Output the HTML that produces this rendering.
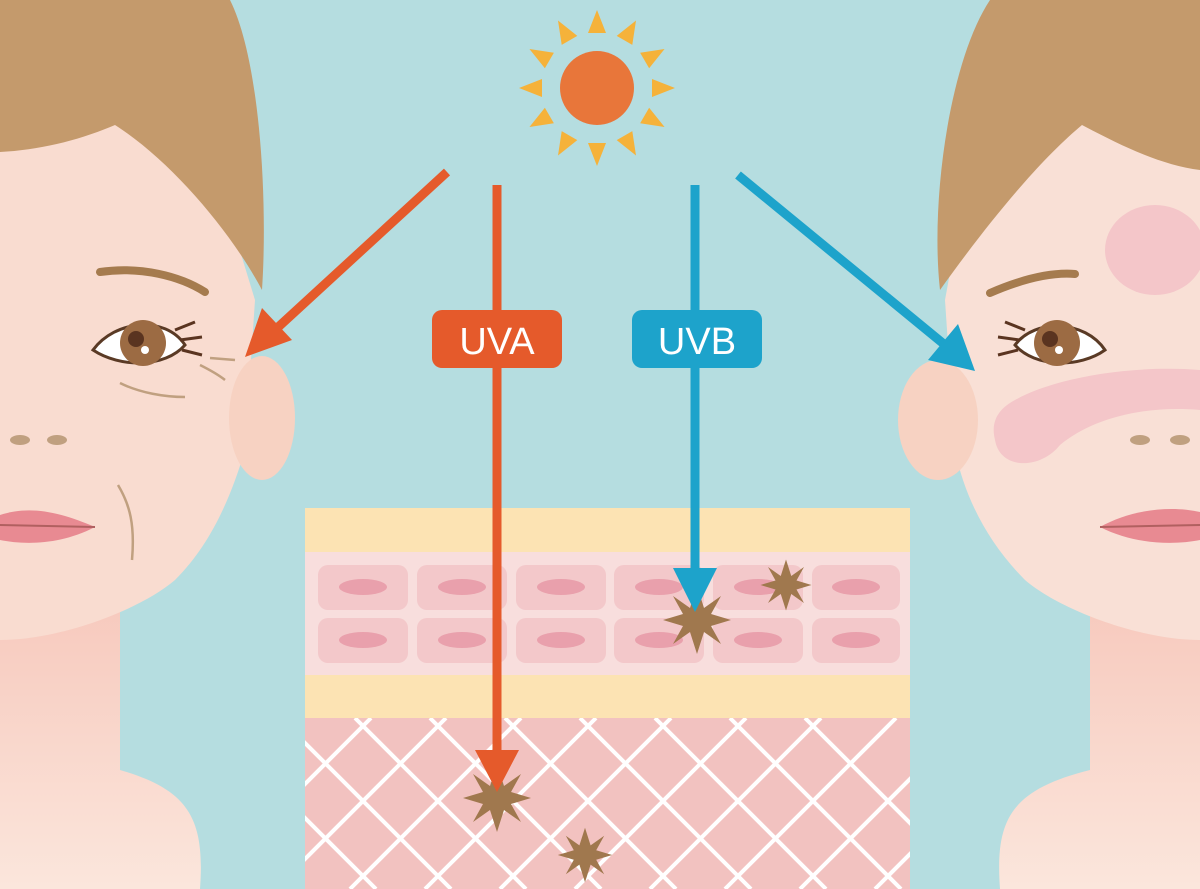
<!DOCTYPE html>
<html><head><meta charset="utf-8"><style>html,body{margin:0;padding:0;background:#b5dde0}svg{display:block}</style></head>
<body>
<svg width="1200" height="889" viewBox="0 0 1200 889" xmlns="http://www.w3.org/2000/svg">
<defs>
<linearGradient id="neckL" x1="0" y1="0" x2="0" y2="1"><stop offset="0" stop-color="#f7c9bd"/><stop offset="1" stop-color="#fbe6dc"/></linearGradient>
<clipPath id="derm"><rect x="305" y="718" width="605" height="171"/></clipPath>
<g id="star"><polygon points="0,-34 7,-12 24,-24 14,-6 34,0 14,6 24,24 7,12 0,34 -7,12 -24,24 -14,6 -34,0 -14,-6 -24,-24 -7,-12" fill="#a0784e"/></g>
</defs>
<rect width="1200" height="889" fill="#b5dde0"/>

<!-- LEFT FACE -->
<path d="M0,889 L200,889 C205,820 190,790 120,770 L120,600 L0,600 Z" fill="url(#neckL)"/>
<path d="M0,100 L0,640 C60,640 140,610 175,580 C210,545 230,500 245,450 L255,300 L200,120 Z" fill="#f9dcd0"/>
<ellipse cx="262" cy="418" rx="33" ry="62" fill="#f7d2c2"/>
<path d="M0,0 L230,0 C260,60 268,200 262,290 C230,230 170,160 115,125 C80,140 40,150 0,152 Z" fill="#c49a6c"/>
<path d="M100,272 C140,266 180,276 205,292" stroke="#a57b4e" stroke-width="8" fill="none" stroke-linecap="round"/>
<path d="M93,350 C115,320 165,315 185,345 C165,368 120,368 93,350 Z" fill="#fff" stroke="#5a3a25" stroke-width="3"/>
<circle cx="143" cy="343" r="23" fill="#9c6b43"/><circle cx="136" cy="339" r="8" fill="#5a3420"/><circle cx="145" cy="350" r="4" fill="#fff"/>
<path d="M175,330 l20,-8 M180,340 l22,-3 M182,350 l20,5" stroke="#5a3420" stroke-width="3"/>
<path d="M120,383 C140,393 165,397 185,397 M200,365 C210,370 220,376 225,380 M210,358 L235,360" stroke="#c0a080" stroke-width="2.5" fill="none"/>
<ellipse cx="20" cy="440" rx="10" ry="5" fill="#c0a080"/><ellipse cx="57" cy="440" rx="10" ry="5" fill="#c0a080"/>
<path d="M0,515 C30,505 60,512 95,527 C60,545 25,545 0,540 Z" fill="#e88a92"/>
<path d="M0,525 L95,527" stroke="#b06060" stroke-width="2"/>
<path d="M118,485 C130,505 135,525 132,560" stroke="#c0a080" stroke-width="2.5" fill="none"/>

<!-- RIGHT FACE -->
<path d="M1200,889 L1000,889 C995,820 1010,790 1090,770 L1090,600 L1200,600 Z" fill="url(#neckL)"/>
<path d="M1200,0 L1200,640 C1140,640 1060,610 1025,580 C990,545 965,500 955,450 L945,300 L1000,0 Z" fill="#f9e0d6"/>
<ellipse cx="938" cy="420" rx="40" ry="60" fill="#f7d2c2"/>
<ellipse cx="1155" cy="250" rx="50" ry="45" fill="#f4c6c9"/>
<path d="M1015,400 C1060,375 1140,365 1200,370 L1200,410 C1140,405 1090,420 1060,445 C1040,470 1000,470 995,440 C990,420 1000,408 1015,400 Z" fill="#f4c6c9"/>
<path d="M1200,0 L990,0 C950,60 930,200 940,290 C990,220 1040,160 1082,125 C1120,145 1160,165 1200,170 Z" fill="#c49a6c"/>
<path d="M990,293 C1020,280 1050,272 1075,274" stroke="#a57b4e" stroke-width="8" fill="none" stroke-linecap="round"/>
<path d="M1105,350 C1085,320 1035,318 1015,345 C1035,368 1080,368 1105,350 Z" fill="#fff" stroke="#5a3a25" stroke-width="3"/>
<circle cx="1057" cy="343" r="23" fill="#9c6b43"/><circle cx="1050" cy="339" r="8" fill="#5a3420"/><circle cx="1059" cy="350" r="4" fill="#fff"/>
<path d="M1025,330 l-20,-8 M1020,340 l-22,-3 M1018,350 l-20,5" stroke="#5a3420" stroke-width="3"/>
<ellipse cx="1140" cy="440" rx="10" ry="5" fill="#c0a080"/><ellipse cx="1180" cy="440" rx="10" ry="5" fill="#c0a080"/>
<path d="M1200,512 C1170,505 1130,510 1100,527 C1135,545 1175,545 1200,540 Z" fill="#e88a92"/>
<path d="M1100,527 L1200,525" stroke="#b06060" stroke-width="2"/>

<!-- SKIN BLOCK -->
<rect x="305" y="508" width="605" height="44" fill="#fce3b3"/>
<rect x="305" y="552" width="605" height="123" fill="#f8dedd"/>
<g fill="#f3c8ca">
<rect x="318" y="565" width="90" height="45" rx="10"/><rect x="417" y="565" width="90" height="45" rx="10"/><rect x="516" y="565" width="90" height="45" rx="10"/><rect x="614" y="565" width="90" height="45" rx="10"/><rect x="713" y="565" width="90" height="45" rx="10"/><rect x="812" y="565" width="88" height="45" rx="10"/>
<rect x="318" y="618" width="90" height="45" rx="10"/><rect x="417" y="618" width="90" height="45" rx="10"/><rect x="516" y="618" width="90" height="45" rx="10"/><rect x="614" y="618" width="90" height="45" rx="10"/><rect x="713" y="618" width="90" height="45" rx="10"/><rect x="812" y="618" width="88" height="45" rx="10"/>
</g>
<g fill="#e9a0ac">
<ellipse cx="363" cy="587" rx="24" ry="8"/><ellipse cx="462" cy="587" rx="24" ry="8"/><ellipse cx="561" cy="587" rx="24" ry="8"/><ellipse cx="659" cy="587" rx="24" ry="8"/><ellipse cx="758" cy="587" rx="24" ry="8"/><ellipse cx="856" cy="587" rx="24" ry="8"/>
<ellipse cx="363" cy="640" rx="24" ry="8"/><ellipse cx="462" cy="640" rx="24" ry="8"/><ellipse cx="561" cy="640" rx="24" ry="8"/><ellipse cx="659" cy="640" rx="24" ry="8"/><ellipse cx="758" cy="640" rx="24" ry="8"/><ellipse cx="856" cy="640" rx="24" ry="8"/>
</g>
<rect x="305" y="675" width="605" height="43" fill="#fce3b3"/>
<rect x="305" y="718" width="605" height="171" fill="#f2c2c0"/>
<g clip-path="url(#derm)" stroke="#fff" stroke-width="4">
<path d="M200,889 L371,718 M275,889 L446,718 M350,889 L521,718 M425,889 L596,718 M500,889 L671,718 M575,889 L746,718 M650,889 L821,718 M725,889 L896,718 M800,889 L971,718 M875,889 L1046,718"/>
<path d="M205,718 L376,889 M280,718 L451,889 M355,718 L526,889 M430,718 L601,889 M505,718 L676,889 M580,718 L751,889 M655,718 L826,889 M730,718 L901,889 M805,718 L976,889"/>
</g>

<!-- SUN -->
<g fill="#f5b23a" transform="translate(597,88)">
<g id="ray"><polygon points="-9,-55 9,-55 0,-78"/></g>
<use href="#ray" transform="rotate(30)"/><use href="#ray" transform="rotate(60)"/><use href="#ray" transform="rotate(90)"/><use href="#ray" transform="rotate(120)"/><use href="#ray" transform="rotate(150)"/><use href="#ray" transform="rotate(180)"/><use href="#ray" transform="rotate(210)"/><use href="#ray" transform="rotate(240)"/><use href="#ray" transform="rotate(270)"/><use href="#ray" transform="rotate(300)"/><use href="#ray" transform="rotate(330)"/>
<circle r="44" fill="#b5dde0"/>
<circle r="37" fill="#e8763a"/>
</g>

<!-- STARS -->
<use href="#star" transform="translate(497,798)"/>
<use href="#star" transform="translate(585,855) scale(0.8)"/>
<use href="#star" transform="translate(697,620)"/>
<use href="#star" transform="translate(786,585) scale(0.75)"/>

<!-- ARROWS -->
<line x1="447" y1="172" x2="275" y2="330" stroke="#e55a2b" stroke-width="9"/>
<polygon points="245,357 262,308 292,340" fill="#e55a2b"/>
<line x1="497" y1="185" x2="497" y2="755" stroke="#e55a2b" stroke-width="9"/>
<polygon points="475,750 519,750 497,792" fill="#e55a2b"/>
<rect x="432" y="310" width="130" height="58" rx="10" fill="#e55a2b"/>
<text x="497" y="354" text-anchor="middle" font-family="Liberation Sans, sans-serif" font-size="38" fill="#fff">UVA</text>

<line x1="695" y1="185" x2="695" y2="575" stroke="#1da3cb" stroke-width="9"/>
<polygon points="673,568 717,568 695,612" fill="#1da3cb"/>
<rect x="632" y="310" width="130" height="58" rx="10" fill="#1da3cb"/>
<text x="697" y="354" text-anchor="middle" font-family="Liberation Sans, sans-serif" font-size="38" fill="#fff">UVB</text>
<line x1="738" y1="175" x2="945" y2="345" stroke="#1da3cb" stroke-width="9"/>
<polygon points="975,371 928,360 958,324" fill="#1da3cb"/>
</svg>
</body></html>
